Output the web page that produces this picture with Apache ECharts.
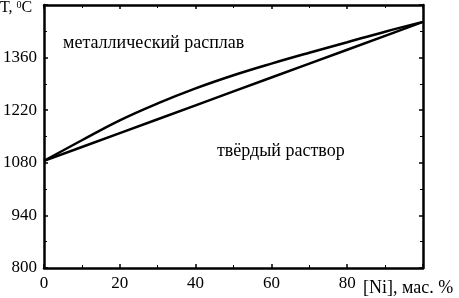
<!DOCTYPE html>
<html>
<head>
<meta charset="utf-8">
<script src="https://cdn.jsdelivr.net/npm/echarts@6/dist/echarts.min.js"></script>
<style>
  html, body { margin: 0; padding: 0; background: #fff; }
  #chart { width: 459px; height: 298px; }
</style>
</head>
<body>
<div id="chart"></div>
<script>
// состав, мас. % Ni
var niPct = [0, 10, 20, 30, 40, 50, 60, 70, 80, 90, 100];
// ликвидус (верхняя кривая)
var liquidus = [1085, 1140, 1193, 1238, 1278, 1313, 1344, 1373, 1401, 1429, 1455];
// солидус (нижняя линия)
var solidus = [1085, 1122, 1159, 1196, 1233, 1270, 1307, 1344, 1381, 1418, 1455];

var xTicks = { min: 0, max: 100, interval: 20 };
var yTicks = { min: 800, max: 1500, interval: 140 };

function pairs(xs, ys) {
  var out = [];
  for (var i = 0; i < xs.length; i++) {
    out.push([xs[i], ys[i]]);
  }
  return out;
}

var font = 'Liberation Serif';
var black = '#000';

// общий стиль для осей рамки
function frameAxis(extra) {
  var base = {
    axisLine: { show: true, onZero: false, lineStyle: { color: black, width: 2.5 } },
    axisTick: { show: true, inside: true, length: 4, lineStyle: { color: black, width: 1.5 } },
    minorTick: { show: true, splitNumber: 2, length: 3, lineStyle: { color: black, width: 1 } },
    splitLine: { show: false },
    axisLabel: { show: false }
  };
  for (var k in extra) base[k] = extra[k];
  return base;
}

function plain(v) { return String(v); }

var chart = echarts.init(document.getElementById('chart'));

var option = {
  animation: false,
  grid: { left: 43, right: 36, top: 5, bottom: 30 },
  xAxis: [
    frameAxis({
      type: 'value', position: 'bottom',
      min: xTicks.min, max: xTicks.max, interval: xTicks.interval,
      axisLabel: {
        show: true, margin: 7, color: black, fontFamily: font, fontSize: 17,
        showMaxLabel: false, formatter: plain
      }
    }),
    frameAxis({
      type: 'value', position: 'top',
      min: xTicks.min, max: xTicks.max, interval: xTicks.interval
    })
  ],
  yAxis: [
    frameAxis({
      type: 'value', position: 'left',
      min: yTicks.min, max: yTicks.max, interval: yTicks.interval,
      axisLabel: {
        show: true, margin: 7, color: black, fontFamily: font, fontSize: 17,
        showMaxLabel: false, formatter: plain
      }
    }),
    frameAxis({
      type: 'value', position: 'right',
      min: yTicks.min, max: yTicks.max, interval: yTicks.interval
    })
  ],
  series: [
    {
      name: 'ликвидус',
      type: 'line',
      data: pairs(niPct, liquidus),
      smooth: 0.4,
      showSymbol: false,
      lineStyle: { color: black, width: 2.5 }
    },
    {
      name: 'солидус',
      type: 'line',
      data: pairs(niPct, solidus),
      showSymbol: false,
      lineStyle: { color: black, width: 2.5 }
    }
  ],
  graphic: [
    {
      type: 'text', left: 0, top: 0,
      style: {
        text: 'T, {s|0}C',
        font: '16px "Liberation Serif"',
        fill: black,
        rich: {
          s: { fontSize: 10, fontFamily: font, verticalAlign: 'top', padding: [0, 0, 6, 0] }
        }
      }
    },
    {
      type: 'text', left: 363, top: 279,
      style: { text: '[Ni], мас. %', font: '18px "Liberation Serif"', fill: black }
    },
    {
      type: 'text', left: 63, top: 34,
      style: { text: 'металлический расплав', font: '18px "Liberation Serif"', fill: black }
    },
    {
      type: 'text', left: 217, top: 142,
      style: { text: 'твёрдый раствор', font: '18px "Liberation Serif"', fill: black }
    }
  ]
};

chart.setOption(option);
</script>
</body>
</html>
